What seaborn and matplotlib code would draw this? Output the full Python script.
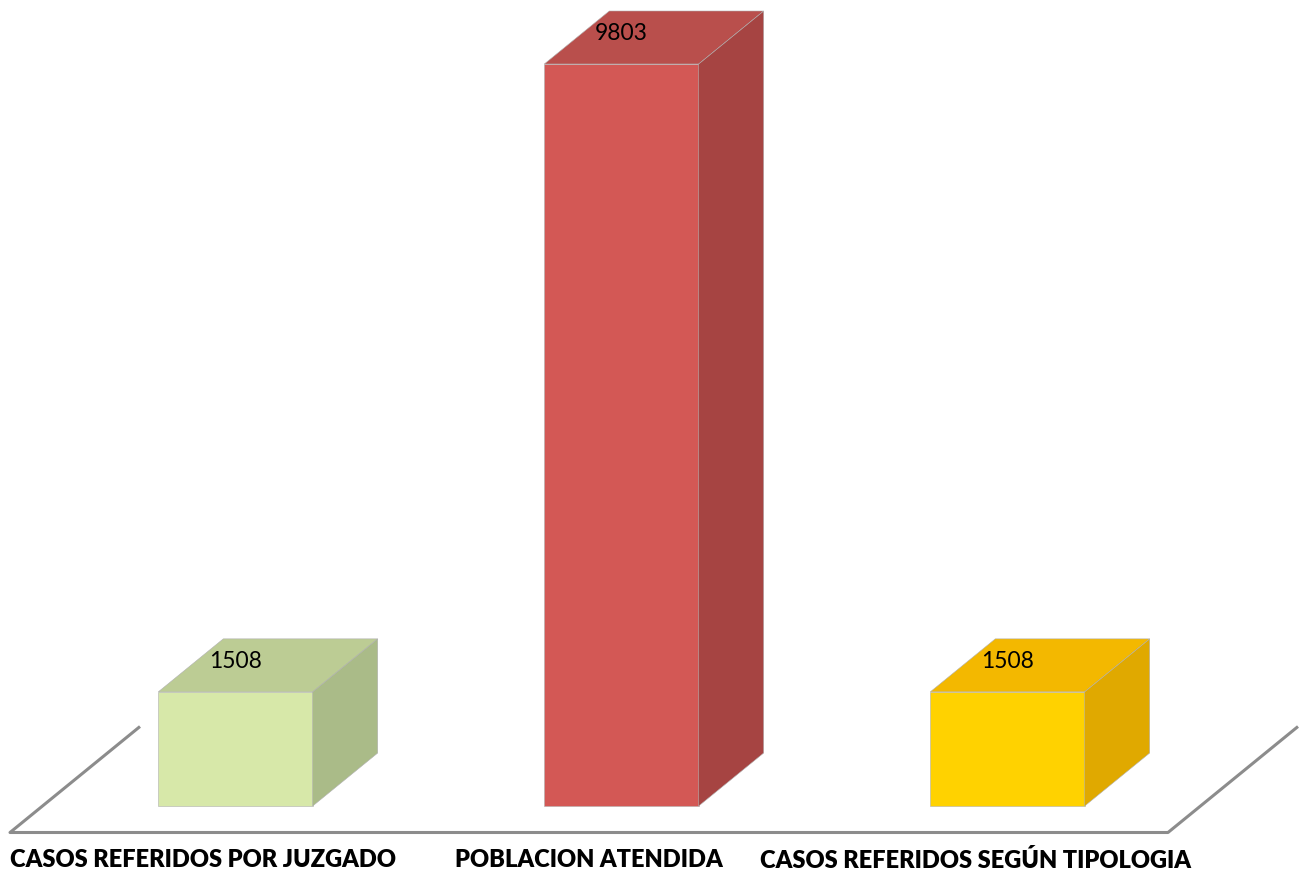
import matplotlib
matplotlib.use("Agg")
import matplotlib.pyplot as plt
from matplotlib.patches import Polygon
import seaborn as sns
import pandas as pd

categories = ["CASOS REFERIDOS POR JUZGADO", "POBLACION ATENDIDA", "CASOS REFERIDOS SEGÚN TIPOLOGIA"]
values = [1508, 9803, 1508]
value_labels = ["1508", "9803", "1508"]

front_colors = ["#D7E8A9", "#D35855", "#FFD200"]
top_colors = ["#BCCC94", "#B94F4C", "#F3B800"]
side_colors = ["#AABB88", "#A64442", "#E0A900"]

sns.set_theme(style="white")
plt.rcParams["font.family"] = ["Lato", "DejaVu Sans"]

W, H = 1299, 876
fig = plt.figure(figsize=(W / 100, H / 100), dpi=100)
ax = fig.add_axes([0, 0, 1, 1])

px_per_cat = 386.0
x0_px = 235.5
base_px_from_bottom = 70.0
units_per_px = 9803 / 742.0

df = pd.DataFrame({"cat": categories, "val": values})
sns.barplot(data=df, x="cat", y="val", hue="cat", palette=front_colors, width=0.4,
            legend=False, ax=ax, saturation=1, edgecolor="#B0B0B0", linewidth=0.4, zorder=3)
ax.set_xlim(-x0_px / px_per_cat, (W - x0_px) / px_per_cat)
ax.set_ylim(-base_px_from_bottom * units_per_px, (H - base_px_from_bottom) * units_per_px)

dx = 65 / px_per_cat
dy = 53 * units_per_px

n = len(categories)
fl, fr = -0.5, n - 0.5
ax.plot([fl + 1.5 * dx, fl - 0.5 * dx, fr - 0.5 * dx, fr + 1.5 * dx],
        [1.5 * dy, -0.5 * dy, -0.5 * dy, 1.5 * dy],
        color="#8C8C8C", lw=2.2, zorder=1, solid_capstyle="butt")

for i, bar in enumerate(ax.patches):
    bx0 = bar.get_x()
    bx1 = bx0 + bar.get_width()
    h = bar.get_height()
    top = Polygon([(bx0, h), (bx1, h), (bx1 + dx, h + dy), (bx0 + dx, h + dy)],
                  closed=True, facecolor=top_colors[i], edgecolor="#B0B0B0", lw=0.4, zorder=3)
    side = Polygon([(bx1, 0), (bx1 + dx, dy), (bx1 + dx, h + dy), (bx1, h)],
                   closed=True, facecolor=side_colors[i], edgecolor="#B0B0B0", lw=0.4, zorder=3)
    ax.add_patch(top)
    ax.add_patch(side)
    ax.text(bx0 + bar.get_width() / 2, h + 0.57 * dy, value_labels[i], ha="center", va="center",
            fontsize=16.5, color="black", zorder=5)

for i, c in enumerate(categories):
    ax.text(i - 0.5 * dx, -54 * units_per_px, c, ha="center", va="center",
            fontsize=17, fontweight="heavy", color="black", zorder=5)

ax.set_axis_off()
fig.savefig("out.png", dpi=100)
